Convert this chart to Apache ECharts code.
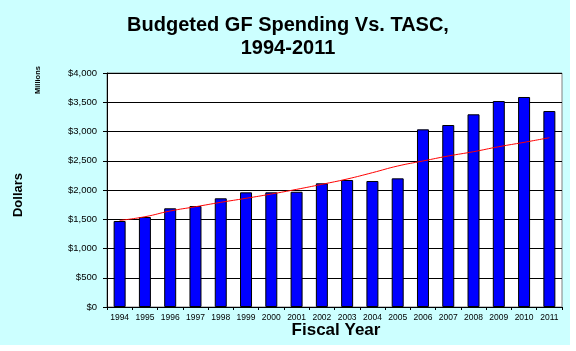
<!DOCTYPE html>
<html>
<head>
<meta charset="utf-8">
<script src="https://cdn.jsdelivr.net/npm/echarts@6/dist/echarts.min.js"></script>
<style>
  html, body { margin: 0; padding: 0; background: #ffffff; }
  #chart { width: 576px; height: 351px; }
</style>
</head>
<body>
<div id="chart"></div>
<script>
var years = ["1994", "1995", "1996", "1997", "1998", "1999", "2000", "2001", "2002",
  "2003", "2004", "2005", "2006", "2007", "2008", "2009", "2010", "2011"];
var spending = [1470, 1538, 1687, 1726, 1858, 1960, 1960, 1970, 2114,
  2171, 2154, 2199, 3037, 3111, 3294, 3521, 3590, 3350];
var tasc = [1480, 1543, 1641, 1714, 1789, 1858, 1931, 2011, 2097,
  2188, 2296, 2410, 2496, 2581, 2655, 2740, 2815, 2894];

var myChart = echarts.init(document.getElementById("chart"));
var option = {
  animation: false,
  backgroundColor: "#ffffff",
  graphic: [
    {
      type: "rect",
      z: -10,
      shape: { x: 0, y: 0, width: 570, height: 345 },
      style: { fill: "#ccffff" }
    },
    {
      type: "rect",
      z: -5,
      shape: { x: 107, y: 73, width: 455, height: 234 },
      style: { fill: "#ffffff", stroke: "#808080", lineWidth: 1 }
    },
    {
      type: "text",
      left: "center",
      top: 14,
      style: {
        text: "Budgeted GF Spending Vs. TASC,\n1994-2011",
        fontFamily: "Liberation Sans, Arial, sans-serif",
        fontWeight: "bold",
        fontSize: 20,
        lineHeight: 23,
        textAlign: "center",
        fill: "#000000"
      }
    },
    {
      type: "text",
      x: 18,
      y: 195,
      rotation: Math.PI / 2,
      style: {
        text: "Dollars",
        fontFamily: "Liberation Sans, Arial, sans-serif",
        fontWeight: "bold",
        fontSize: 13,
        textAlign: "center",
        textVerticalAlign: "middle",
        fill: "#000000"
      }
    },
    {
      type: "text",
      x: 38,
      y: 80,
      rotation: Math.PI / 2,
      style: {
        text: "Millions",
        fontFamily: "Liberation Sans, Arial, sans-serif",
        fontWeight: "bold",
        fontSize: 7.5,
        textAlign: "center",
        textVerticalAlign: "middle",
        fill: "#000000"
      }
    },
    {
      type: "text",
      x: 336,
      y: 330,
      style: {
        text: "Fiscal Year",
        fontFamily: "Liberation Sans, Arial, sans-serif",
        fontWeight: "bold",
        fontSize: 17,
        textAlign: "center",
        textVerticalAlign: "middle",
        fill: "#000000"
      }
    }
  ],
  grid: { left: 107, top: 73, width: 455, height: 234 },
  xAxis: {
    type: "category",
    data: years,
    axisLine: { lineStyle: { color: "#000000", width: 1 } },
    axisTick: { show: true, length: 3, lineStyle: { color: "#000000" } },
    axisLabel: {
      interval: 0,
      margin: 6,
      fontFamily: "Liberation Sans, Arial, sans-serif",
      fontSize: 8.5,
      color: "#000000"
    }
  },
  yAxis: {
    type: "value",
    min: 0,
    max: 4000,
    interval: 500,
    axisLine: { show: true, lineStyle: { color: "#000000", width: 1 } },
    axisTick: { show: true, length: 4, lineStyle: { color: "#000000" } },
    splitLine: { show: true, lineStyle: { color: "#000000", width: 1 } },
    axisLabel: {
      margin: 10,
      fontFamily: "Liberation Sans, Arial, sans-serif",
      fontSize: 9.5,
      color: "#000000",
      formatter: function (v) {
        return "$" + v.toLocaleString("en-US");
      }
    }
  },
  series: [
    {
      name: "Budgeted GF Spending",
      type: "bar",
      data: spending,
      barWidth: 12,
      itemStyle: { color: "#0000ff", borderColor: "#000000", borderWidth: 1 },
      z: 2
    },
    {
      name: "TASC",
      type: "line",
      data: tasc,
      symbol: "none",
      smooth: true,
      lineStyle: { color: "#ff0000", width: 1 },
      z: 3
    }
  ]
};
option && myChart.setOption(option);
</script>
</body>
</html>
